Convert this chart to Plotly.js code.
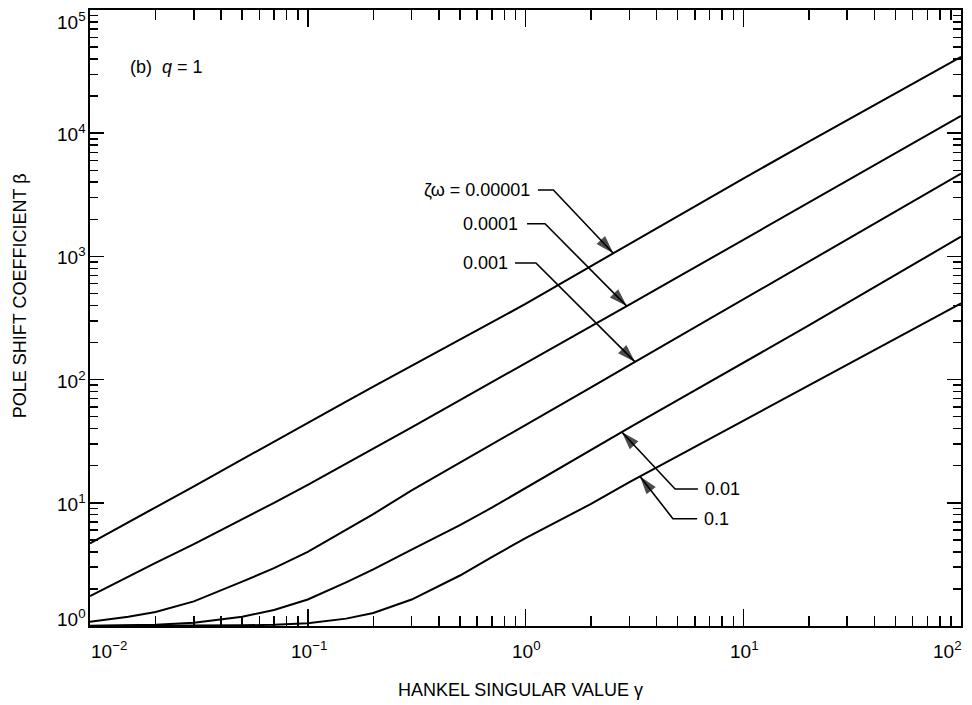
<!DOCTYPE html>
<html>
<head>
<meta charset="utf-8">
<script src="https://cdn.plot.ly/plotly-3.0.1.min.js"></script>
<style>
  html, body { margin: 0; padding: 0; background: #fff; }
  #chart { width: 972px; height: 705px; }
</style>
</head>
<body>
<div id="chart"></div>
<script>
// Hankel singular value (gamma) sample points
const gamma = [0.01, 0.015, 0.02, 0.03, 0.05, 0.07, 0.1, 0.15, 0.2, 0.3, 0.5, 0.7, 1, 2, 3, 5, 10, 20, 50, 100];

// Pole shift coefficient beta for each damping product zeta*omega
const beta_zw_1e5 = [4.68, 7.0, 9.2, 13.6, 22.5, 31.6, 44.7, 66.4, 87.5, 129, 211, 291, 411, 835, 1265, 2120, 4280, 8550, 21200, 41700];
const beta_zw_1e4 = [1.75, 2.53, 3.25, 4.62, 7.33, 10.0, 14.0, 20.7, 27.5, 40.9, 68.1, 95.5, 136, 272, 406, 678, 1360, 2740, 6870, 13800];
const beta_zw_1e3 = [1.08, 1.19, 1.30, 1.585, 2.29, 2.95, 4.0, 6.0, 8.1, 12.6, 21.1, 29.9, 42.7, 86.6, 131, 221, 447, 907, 2310, 4690];
const beta_zw_1e2 = [1.005, 1.012, 1.023, 1.064, 1.19, 1.35, 1.64, 2.26, 2.88, 4.17, 6.6, 9.12, 13.2, 26.9, 40.8, 68, 136, 275, 708, 1445];
const beta_zw_1e1 = [1.0, 1.0, 1.0, 1.005, 1.012, 1.023, 1.052, 1.148, 1.274, 1.64, 2.57, 3.63, 5.16, 9.8, 14.7, 23.9, 46.3, 89.8, 215, 416];

const seriesLabels = ["ζω = 0.00001", "0.0001", "0.001", "0.01", "0.1"];
const seriesValues = [beta_zw_1e5, beta_zw_1e4, beta_zw_1e3, beta_zw_1e2, beta_zw_1e1];

// axis tick labels
const xTickVals = [0.01, 0.1, 1, 10, 100];
const xTickText = ["10<sup>−2</sup>", "10<sup>−1</sup>", "10<sup>0</sup>", "10<sup>1</sup>", "10<sup>2</sup>"];
const yTickVals = [1, 10, 100, 1000, 10000, 100000];
const yTickText = ["10<sup>0</sup>", "10<sup>1</sup>", "10<sup>2</sup>", "10<sup>3</sup>", "10<sup>4</sup>", "10<sup>5</sup>"];

const FONT = "Liberation Sans, Arial, Helvetica, sans-serif";

// minor ticks at 2..9 within each decade
function minorTicks(lo, hi) {
  const out = [];
  for (let e = lo; e < hi; e++) {
    for (let d = 2; d <= 9; d++) out.push(d * Math.pow(10, e));
  }
  return out;
}

// log-log interpolation on one curve, used to land each arrow on its line
function betaAt(values, logG) {
  const lx = gamma.map(Math.log10);
  for (let i = 0; i < lx.length - 1; i++) {
    if (logG >= lx[i] && logG <= lx[i + 1]) {
      const t = (logG - lx[i]) / (lx[i + 1] - lx[i]);
      return Math.pow(10, Math.log10(values[i]) + t * (Math.log10(values[i + 1]) - Math.log10(values[i])));
    }
  }
  return values[values.length - 1];
}

const traces = seriesValues.map((vals, i) => ({
  x: gamma, y: vals, type: 'scatter', mode: 'lines',
  line: { color: '#000', width: 2 },
  name: seriesLabels[i], showlegend: false, hoverinfo: 'skip'
}));

// empty trace that puts the minor-tick axes on the page
traces.push({ x: [], y: [], xaxis: 'x2', yaxis: 'y2', type: 'scatter', mode: 'lines',
              showlegend: false, hoverinfo: 'skip' });

// callout geometry in log10 units: arrow tip x, elbow point, end of the horizontal leader, label side and x
const callouts = [
  { tip: 0.403, elbow: [0.128, 3.539], lead: 0.057, side: 'right', tx: 0.030 },
  { tip: 0.465, elbow: [0.0896, 3.265], lead: 0.007, side: 'right', tx: -0.025 },
  { tip: 0.503, elbow: [0.048, 2.946], lead: -0.048, side: 'right', tx: -0.071 },
  { tip: 0.442, elbow: [0.687, 1.112], lead: 0.792, side: 'left', tx: 0.815 },
  { tip: 0.526, elbow: [0.677, 0.871], lead: 0.788, side: 'left', tx: 0.811 }
];

const annotations = [];
callouts.forEach((c, i) => {
  const tipX = Math.pow(10, c.tip);
  const tipY = betaAt(seriesValues[i], c.tip);
  const ex = Math.pow(10, c.elbow[0]), ey = Math.pow(10, c.elbow[1]);
  // leader: horizontal stub, slanted run, arrowhead sitting on the curve
  traces.push({
    x: [Math.pow(10, c.lead), ex, tipX],
    y: [ey, ey, tipY],
    type: 'scatter', mode: 'lines+markers',
    line: { color: '#000', width: 1.6 },
    marker: { symbol: 'arrow', size: [0, 0, 19], color: '#000', angleref: 'previous', line: { width: 0 } },
    showlegend: false, hoverinfo: 'skip', cliponaxis: false
  });
  annotations.push({
    x: c.tx, y: c.elbow[1], xref: 'x', yref: 'y',
    text: seriesLabels[i], showarrow: false,
    xanchor: c.side, yanchor: 'middle',
    font: { family: FONT, size: 18, color: '#000' }
  });
});

// tick labels; the two end labels of each axis are nudged inward
const tickFont = { family: FONT, size: 19, color: '#000' };
xTickVals.forEach((v, i) => {
  const shift = i === 0 ? 19 : (i === xTickVals.length - 1 ? -14 : 1);
  annotations.push({
    x: Math.log10(v), y: -0.016, xref: 'x', yref: 'paper',
    text: xTickText[i], showarrow: false, xanchor: 'center', yanchor: 'top',
    xshift: shift, font: tickFont
  });
});
yTickVals.forEach((v, i) => {
  const shift = i === 0 ? 8 : (i === yTickVals.length - 1 ? -11 : 0);
  annotations.push({
    x: -0.002, y: Math.log10(v), xref: 'paper', yref: 'y',
    text: yTickText[i], showarrow: false, xanchor: 'right', yanchor: 'middle',
    yshift: shift, font: tickFont
  });
});

annotations.push({
  x: 0.0436, y: 0.908, xref: 'paper', yref: 'paper',
  text: '(b)  <i>q</i> = 1', showarrow: false, xanchor: 'left', yanchor: 'middle',
  font: { family: FONT, size: 18, color: '#000' }
});
annotations.push({
  x: 0.4948, y: -0.1039, xref: 'paper', yref: 'paper',
  text: 'HANKEL SINGULAR VALUE γ', showarrow: false, xanchor: 'center', yanchor: 'middle',
  font: { family: FONT, size: 18, color: '#000' }
});
annotations.push({
  x: -0.0804, y: 0.537, xref: 'paper', yref: 'paper', textangle: -90,
  text: 'POLE SHIFT COEFFICIENT β', showarrow: false, xanchor: 'center', yanchor: 'middle',
  font: { family: FONT, size: 18, color: '#000' }
});

function axis(range, vals, len, withLine) {
  return {
    type: 'log', range: range, fixedrange: true,
    tickmode: 'array', tickvals: vals, showticklabels: false,
    ticks: 'inside', ticklen: len, tickwidth: 1.5, tickcolor: '#000',
    showline: withLine, linewidth: 2, linecolor: '#000', mirror: 'allticks',
    showgrid: false, zeroline: false
  };
}

const layout = {
  width: 972, height: 705,
  margin: { l: 90, r: 11, t: 10, b: 79 },
  paper_bgcolor: '#fff', plot_bgcolor: '#fff',
  showlegend: false,
  // major ticks and frame
  xaxis: axis([-2, 2], xTickVals, 17, true),
  yaxis: axis([0, 5], yTickVals, 14, true),
  // minor ticks on overlaid axes sharing the same scale
  xaxis2: Object.assign(axis([-2, 2], minorTicks(-2, 2), 10, false), { overlaying: 'x', anchor: 'y2' }),
  yaxis2: Object.assign(axis([0, 5], minorTicks(0, 5), 8, false), { overlaying: 'y', anchor: 'x2' }),
  annotations: annotations
};

Plotly.newPlot('chart', traces, layout, { displayModeBar: false, staticPlot: true });
</script>
</body>
</html>
